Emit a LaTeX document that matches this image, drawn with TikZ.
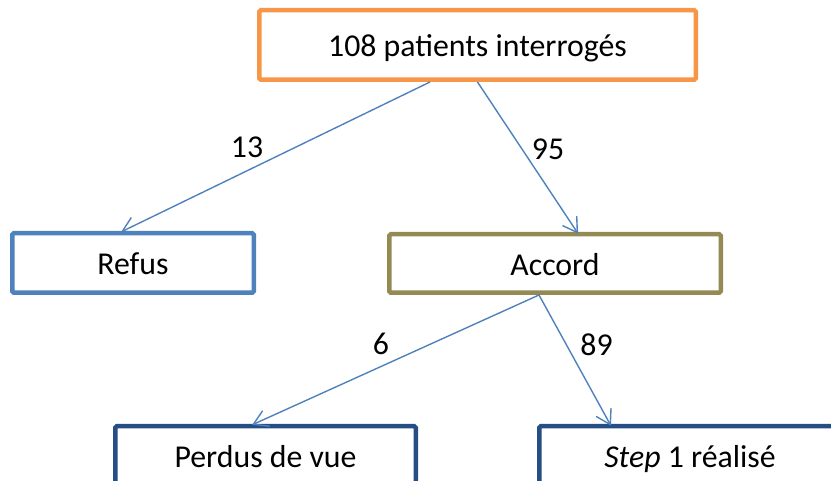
\documentclass[tikz,border=0pt]{standalone}
\usepackage{fontspec}
\setmainfont{Carlito}
\usetikzlibrary{arrows.meta}
\definecolor{orangebox}{HTML}{F79646}
\definecolor{bluebox}{HTML}{4F81BD}
\definecolor{olivebox}{HTML}{948A54}
\definecolor{darkbox}{HTML}{264E85}
\tikzstyle{box} = [draw, line width=4.5pt, rounded corners=1.5pt, fill=white, inner sep=0pt, minimum height=59.5pt, text height=30pt, text depth=6pt, font=\fontsize{31.8}{38}\selectfont]
\tikzstyle{num} = [inner sep=0pt, font=\fontsize{31.8}{38}\selectfont]

\begin{document}
\begin{tikzpicture}[x=1pt,y=1pt,->,>={Straight Barb[length=14pt,width=17pt]},shorten >=-2pt,line width=1.4pt]

\clip (0,0) rectangle (831,481);

\node[box, draw = orangebox, minimum width = 436.5pt, minimum height = 69.5pt] (patients) at (477.5,436) {108 patients interrogés};
\node[box, draw = bluebox, minimum width = 241.5pt] (refus) at (133,218) {Refus};
\node[box, draw = olivebox, minimum width = 331.5pt, minimum height = 58.5pt] (accord) at (555,217.5) {Accord};
\node[box, draw = darkbox, minimum width = 300.5pt] (perdus) at (265.5,25) {Perdus de vue};
\node[box, draw = darkbox, minimum width = 301.5pt] (step1) at (690,25) {\textit{Step} 1 réalisé};

\node[num] (n13) at (247,333.5) {13};
\node[num] (n95) at (548,332) {95};
\node[num] (n6) at (381,137) {6};
\node[num] (n89) at (596.5,136) {89};

\path[color = bluebox]
([xshift = -47.5pt]patients.south) edge [] node {} ([xshift = -10pt]refus.north)
(patients.south) edge [] node {} ([xshift = 22pt]accord.north)
([xshift = -16pt]accord.south) edge [] node {} ([xshift = -11.5pt]perdus.north)
([xshift = -16pt]accord.south) edge [] node {} ([xshift = -80pt]step1.north);

\end{tikzpicture}
\end{document}
